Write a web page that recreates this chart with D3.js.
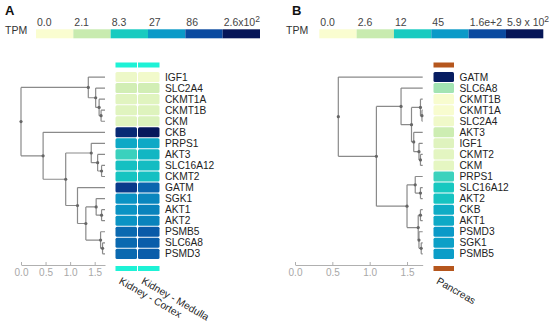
<!DOCTYPE html>
<html>
<head>
<meta charset="utf-8">
<script src="https://cdn.jsdelivr.net/npm/d3@7"></script>
<style>
  body { margin: 0; background: #fff; }
  svg { font-family: "Liberation Sans", Arial, sans-serif; }
  .axis text { fill: #a8a8a8; font-size: 10px; }
  .axis path, .axis line { stroke: #b0b0b0; }
</style>
</head>
<body>
<svg id="chart" width="550" height="328"></svg>
<script>
// ---- data ----
const legendColors = ["#fafdd0", "#c8ebaf", "#18cbc0", "#0a9ac8", "#0a4aa0", "#061658"];

const breaksA = [0, 2.1, 8.3, 27, 86, 260];
const breakLabelsA = ["0.0", "2.1", "8.3", "27", "86", "2.6x10^2"];
const breaksB = [0, 2.6, 12, 45, 160, 590];
const breakLabelsB = ["0.0", "2.6", "12", "45", "1.6e+2", "5.9 x 10^2"];

const tissuesA = ["Kidney - Cortex", "Kidney - Medulla"];
const rowsA = ["IGF1", "SLC2A4", "CKMT1A", "CKMT1B", "CKM", "CKB", "PRPS1", "AKT3",
  "SLC16A12", "CKMT2", "GATM", "SGK1", "AKT1", "AKT2", "PSMB5", "SLC6A8", "PSMD3"];
const cortexTPM  = [0.33, 1.5, 0.76, 0.8, 0.8, 170, 19, 6.5, 11, 10, 120, 30, 30, 30, 55, 55, 55];
const medullaTPM = [0.2, 1.5, 0.8, 0.9, 1.0, 250, 19, 14, 12, 11, 58, 36, 38, 38, 68, 65, 65];

const tissuesB = ["Pancreas"];
const rowsB = ["GATM", "SLC6A8", "CKMT1B", "CKMT1A", "SLC2A4", "AKT3", "IGF1", "CKMT2",
  "CKM", "PRPS1", "SLC16A12", "AKT2", "CKB", "AKT1", "PSMD3", "SGK1", "PSMB5"];
const pancreasTPM = [500, 3.7, 0.05, 0.05, 0.3, 2.2, 1.0, 0.8, 0.7, 9, 13, 15, 28, 30, 45, 38, 42];

// dendrograms: [height, child, child], leaves are gene names
const treeA = [0.0,
  [1.37, "IGF1", [1.52, "SLC2A4", [1.59, "CKMT1A", [1.63, "CKMT1B", "CKM"]]]],
  [0.45, "CKB",
    [0.91,
      [1.43, "PRPS1", [1.56, "AKT3", [1.64, "SLC16A12", "CKMT2"]]],
      [1.15, "GATM",
        [1.32,
          [1.53, "SGK1", [1.64, "AKT1", "AKT2"]],
          [1.62, "PSMB5", [1.66, "SLC6A8", "PSMD3"]]]]]]];

const treeB = [0.58, "GATM",
  [1.09,
    [1.42, "SLC6A8",
      [1.56,
        [1.68, "CKMT1B", [1.70, "CKMT1A", "SLC2A4"]],
        [1.59, "AKT3", [1.66, "IGF1", [1.68, "CKMT2", "CKM"]]]]],
    [1.50,
      [1.61, "PRPS1", [1.68, "SLC16A12", "AKT2"]],
      [1.65, [1.68, "CKB", "AKT1"], [1.66, "PSMD3", [1.69, "SGK1", "PSMB5"]]]]]];

const leafHeight = 1.71;
const axisTicks = [0, 0.5, 1, 1.5];

const svg = d3.select("#chart");

function panel(opt) {
  const g = svg.append("g");

  // panel letter + legend
  g.append("text").attr("x", opt.letterX).attr("y", 15)
    .attr("font-size", 13).attr("font-weight", "bold").attr("fill", "#111").text(opt.letter);
  g.append("text").attr("x", opt.lx).attr("y", 34)
    .attr("font-size", 10.5).attr("fill", "#333").text("TPM");

  const legX = d3.scaleBand().domain(d3.range(legendColors.length)).range([opt.legend0, opt.legend0 + 224]);
  g.selectAll(".leg").data(legendColors).join("rect")
    .attr("x", (d, i) => legX(i)).attr("y", 29.3)
    .attr("width", legX.bandwidth()).attr("height", 9)
    .attr("fill", d => d);
  const lbl = g.selectAll(".legl").data(opt.breakLabels).join("text")
    .attr("x", (d, i) => legX(i) + 1).attr("y", 25.5)
    .attr("font-size", 10.5).attr("fill", "#444");
  lbl.append("tspan").text(d => d.split("^")[0]);
  lbl.filter(d => d.includes("^")).append("tspan")
    .attr("dy", -4).attr("font-size", 8.5).text(d => d.split("^")[1]);

  // colour scale on log(TPM+1)
  const color = d3.scaleLinear()
    .domain(opt.breaks.map(v => Math.log10(v + 1)))
    .range(legendColors).clamp(true);

  const y = d3.scaleBand().domain(opt.rows).range([71.5, 259.4]);
  const xc = d3.scaleBand().domain(opt.tissues).range(opt.colRange);

  // tissue colour strips
  [62.5, 266].forEach(sy => {
    g.selectAll(null).data(opt.tissues).join("rect")
      .attr("x", d => xc(d) + 0.5).attr("y", sy)
      .attr("width", xc.bandwidth() - 1).attr("height", 5)
      .attr("fill", opt.stripColor);
  });

  // heat cells
  opt.tissues.forEach((t, ti) => {
    g.selectAll(null).data(opt.rows).join("rect")
      .attr("x", xc(t) + 0.5).attr("y", d => y(d) + 0.5)
      .attr("width", xc.bandwidth() - 1).attr("height", y.bandwidth() - 1)
      .attr("rx", 1.5)
      .attr("fill", (d, i) => color(Math.log10(opt.values[ti][i] + 1)));
  });

  // row labels
  g.selectAll(null).data(opt.rows).join("text")
    .attr("x", opt.colRange[1] + 5).attr("y", d => y(d) + y.bandwidth() / 2 + 3.5)
    .attr("font-size", 10.2).attr("fill", "#222").text(d => d);

  // column labels
  g.selectAll(null).data(opt.tissues).join("text")
    .attr("transform", d => `translate(${xc(d) + xc.bandwidth() / 2 - 8},283) rotate(30)`)
    .attr("font-size", 10.2).attr("fill", "#222").text(d => d);

  // dendrogram
  const x = d3.scaleLinear().domain([0, leafHeight]).range(opt.treeRange);
  const root = d3.hierarchy(opt.tree, d => Array.isArray(d) ? d.slice(1) : null);
  root.eachAfter(n => {
    if (n.children) {
      n.h = n.data[0];
      n.py = d3.mean(n.children, c => c.py);
    } else {
      n.h = leafHeight;
      n.py = y(n.data) + y.bandwidth() / 2;
    }
  });
  const links = g.append("g").attr("stroke", "#8a8a8a").attr("stroke-width", 1.2).attr("fill", "none");
  root.each(n => {
    if (!n.children) return;
    links.append("path").attr("d",
      `M${x(n.h)},${n.children[0].py}V${n.children[1].py}` +
      n.children.map(c => `M${x(n.h)},${c.py}H${x(c.h)}`).join(""));
  });
  g.append("g").selectAll("circle").data(root.descendants().filter(n => n.children)).join("circle")
    .attr("cx", n => x(n.h)).attr("cy", n => n.py).attr("r", 1.6).attr("fill", "#666");

  g.append("g").attr("class", "axis")
    .attr("transform", "translate(0,265)")
    .call(d3.axisBottom(x).tickValues(axisTicks).tickFormat(d3.format(".1f"))
      .tickSize(-3).tickSizeOuter(0).tickPadding(4));
}

panel({ letter: "A", letterX: 5, lx: 5, legend0: 36, breaks: breaksA, breakLabels: breakLabelsA,
  rows: rowsA, tissues: tissuesA, values: [cortexTPM, medullaTPM], colRange: [115, 160],
  stripColor: "#1ef2d6", tree: treeA, treeRange: [21, 105] });

panel({ letter: "B", letterX: 292, lx: 286, legend0: 319.3, breaks: breaksB, breakLabels: breakLabelsB,
  rows: rowsB, tissues: tissuesB, values: [pancreasTPM], colRange: [433, 454.5],
  stripColor: "#b5561d", tree: treeB, treeRange: [295, 422.7] });
</script>
</body>
</html>
